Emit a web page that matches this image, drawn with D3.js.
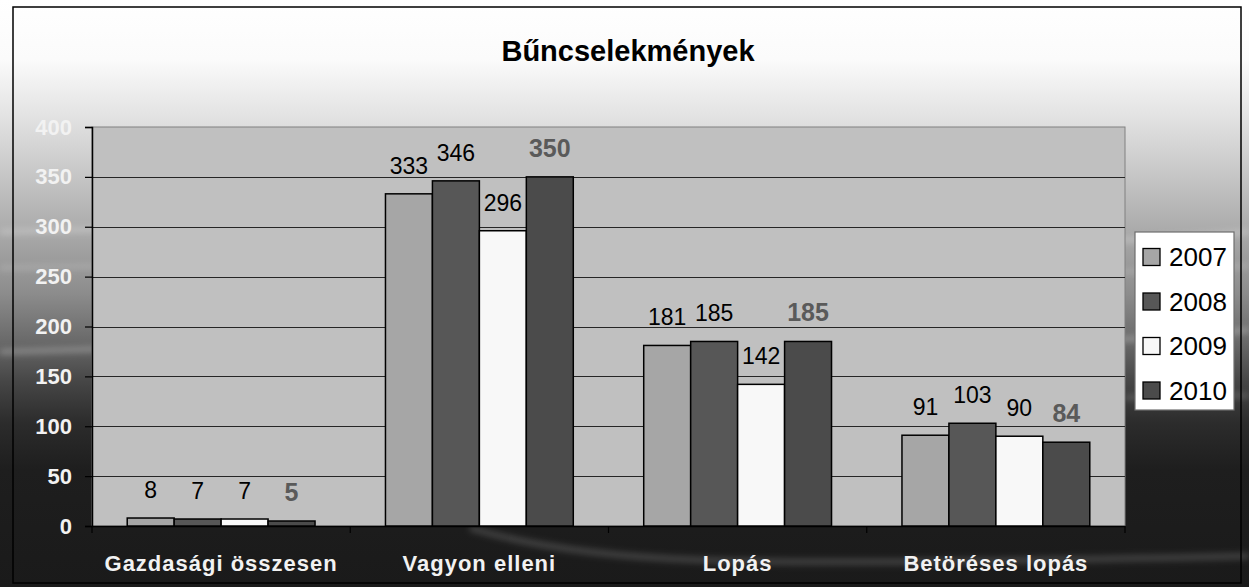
<!DOCTYPE html>
<html>
<head>
<meta charset="utf-8">
<script src="https://cdn.jsdelivr.net/npm/d3@7"></script>
<style>
  body { margin: 0; background: #fff; }
  svg { display: block; }
</style>
</head>
<body>
<svg id="chart"></svg>
<script>
// chart data
var categories = ["Gazdasági összesen", "Vagyon elleni", "Lopás", "Betöréses lopás"];
var years = ["2007", "2008", "2009", "2010"];
var values2007 = [8, 333, 181, 91];
var values2008 = [7, 346, 185, 103];
var values2009 = [7, 296, 142, 90];
var values2010 = [5, 350, 185, 84];
var yTicks = [0, 50, 100, 150, 200, 250, 300, 350, 400];
var chartTitle = "Bűncselekmények";

var seriesValues = [values2007, values2008, values2009, values2010];
var fills = ["#a6a6a6", "#575757", "#f8f8f8", "#4b4b4b"];
var font = "Arial, 'Liberation Sans', sans-serif";

var W = 1249, H = 587;
var plot = { left: 92, right: 1125, top: 127, bottom: 526 };

var svg = d3.select("#chart").attr("width", W).attr("height", H);
var defs = svg.append("defs");

// background gradient, white at the top to almost black at the bottom
var bg = defs.append("linearGradient").attr("id", "bg")
    .attr("x1", 0).attr("y1", 0).attr("x2", 0).attr("y2", 1);
[[0, "#ffffff"], [0.1, "#fbfbfb"], [0.2, "#e2e2e2"], [0.3, "#c6c6c6"],
 [0.4, "#a8a8a8"], [0.5, "#8c8c8c"], [0.58, "#6a6a6a"], [0.65, "#464646"],
 [0.72, "#2c2c2c"], [0.8, "#1e1e1e"], [1, "#1a1a1a"]].forEach(function (s) {
    bg.append("stop").attr("offset", s[0]).attr("stop-color", s[1]);
});

defs.append("filter").attr("id", "blur")
    .attr("x", "-10%").attr("y", "-50%").attr("width", "120%").attr("height", "200%")
    .append("feGaussianBlur").attr("stdDeviation", 3);

svg.append("rect").attr("width", W).attr("height", H).attr("fill", "url(#bg)");

// soft light swooshes in the background
var swoosh = svg.append("g").attr("filter", "url(#blur)")
    .attr("fill", "none").attr("stroke", "#ffffff");
swoosh.append("path").attr("d", "M0,232 Q300,222 640,238 T1249,232")
    .attr("stroke-width", 5).attr("stroke-opacity", 0.25);
swoosh.append("path").attr("d", "M0,268 Q300,262 640,272 T1249,266")
    .attr("stroke-width", 4).attr("stroke-opacity", 0.2);
swoosh.append("path").attr("d", "M0,352 Q350,340 700,345 T1249,330")
    .attr("stroke-width", 5).attr("stroke-opacity", 0.28);
swoosh.append("path").attr("d", "M1125,398 Q1190,392 1249,396")
    .attr("stroke-width", 4).attr("stroke-opacity", 0.2);
swoosh.append("path").attr("d", "M470,528 Q560,555 700,560 T1249,556")
    .attr("stroke-width", 6).attr("stroke-opacity", 0.18);

// outer chart border
svg.append("rect").attr("x", 13).attr("y", 7).attr("width", 1228).attr("height", 576)
    .attr("fill", "none").attr("stroke", "#000").attr("stroke-width", 1.5);

// title
svg.append("text")
    .attr("x", 628).attr("y", 61)
    .attr("text-anchor", "middle")
    .style("font-family", font).style("font-size", "29px").style("font-weight", "bold")
    .style("fill", "#000")
    .text(chartTitle);

// scales
var x0 = d3.scaleBand().domain(categories).range([plot.left, plot.right]);
var groupWidth = x0.bandwidth() * 4 / 5.5;
var x1 = d3.scaleBand().domain(years).range([0, groupWidth]);
var y = d3.scaleLinear().domain([0, 400]).range([plot.bottom, plot.top]);

// plot area
svg.append("rect")
    .attr("x", plot.left).attr("y", plot.top)
    .attr("width", plot.right - plot.left).attr("height", plot.bottom - plot.top)
    .attr("fill", "#c0c0c0").attr("stroke", "#808080").attr("stroke-width", 1);

// gridlines
svg.append("g").selectAll("line")
    .data(yTicks.filter(function (d) { return d > 0 && d < 400; }))
    .enter().append("line")
    .attr("x1", plot.left).attr("x2", plot.right)
    .attr("y1", function (d) { return Math.round(y(d)) + 0.5; })
    .attr("y2", function (d) { return Math.round(y(d)) + 0.5; })
    .attr("stroke", "#262626").attr("stroke-width", 1);

// y axis
var yAxis = d3.axisLeft(y).tickValues(yTicks).tickSize(7).tickPadding(13);
var gy = svg.append("g").attr("transform", "translate(" + plot.left + ",0)").call(yAxis);
gy.select(".domain").attr("stroke", "#000").attr("stroke-width", 1.5);
gy.selectAll(".tick line").attr("stroke", "#000").attr("stroke-width", 1.2);
gy.selectAll(".tick text")
    .style("font-family", font).style("font-size", "22px").style("font-weight", "bold")
    .attr("fill", "#f2f2f2");

// x axis
var xAxis = d3.axisBottom(x0).tickSize(0).tickPadding(0).tickFormat("");
var gx = svg.append("g").attr("transform", "translate(0," + plot.bottom + ")").call(xAxis);
gx.select(".domain").attr("stroke", "#000").attr("stroke-width", 1.5);
gx.selectAll(".tick").remove();

// category separator ticks
svg.append("g").selectAll("line")
    .data(categories.concat(["end"]))
    .enter().append("line")
    .attr("x1", function (d, i) { return i < categories.length ? x0(d) : plot.right; })
    .attr("x2", function (d, i) { return i < categories.length ? x0(d) : plot.right; })
    .attr("y1", plot.bottom).attr("y2", plot.bottom + 7)
    .attr("stroke", "#000").attr("stroke-width", 1.2);

// category labels
svg.append("g").selectAll("text")
    .data(categories)
    .enter().append("text")
    .attr("x", function (d) { return x0(d) + x0.bandwidth() / 2; })
    .attr("y", 571)
    .attr("text-anchor", "middle")
    .style("font-family", font).style("font-size", "22px").style("font-weight", "bold")
    .style("letter-spacing", "1px")
    .attr("fill", "#f2f2f2")
    .text(function (d) { return d; });

// bars
var groups = svg.append("g").selectAll("g")
    .data(categories)
    .enter().append("g")
    .attr("transform", function (d) {
        return "translate(" + (x0(d) + (x0.bandwidth() - groupWidth) / 2) + ",0)";
    });

var bars = groups.selectAll("rect")
    .data(function (d, ci) {
        return years.map(function (yr, si) {
            return { year: yr, si: si, value: seriesValues[si][ci] };
        });
    })
    .enter();

bars.append("rect")
    .attr("x", function (d) { return x1(d.year); })
    .attr("y", function (d) { return y(d.value); })
    .attr("width", x1.bandwidth())
    .attr("height", function (d) { return y(0) - y(d.value); })
    .attr("fill", function (d) { return fills[d.si]; })
    .attr("stroke", "#000").attr("stroke-width", 1.5);

// value labels
bars.append("text")
    .attr("x", function (d) { return x1(d.year) + x1.bandwidth() / 2; })
    .attr("y", function (d) { return y(d.value) - 20; })
    .attr("text-anchor", "middle")
    .style("font-family", font)
    .style("font-size", function (d) { return d.si === 3 ? "25px" : "23px"; })
    .style("font-weight", function (d) { return d.si === 3 ? "bold" : "normal"; })
    .attr("fill", function (d) { return d.si === 3 ? "#5a5a5a" : "#000"; })
    .text(function (d) { return d.value; });

// legend
var legend = svg.append("g").attr("transform", "translate(1135,232)");
legend.append("rect")
    .attr("width", 99).attr("height", 178)
    .attr("fill", "#fff").attr("stroke", "#6e6e6e").attr("stroke-width", 1.2);

var items = legend.selectAll(".item")
    .data(years)
    .enter().append("g")
    .attr("class", "item")
    .attr("transform", function (d, i) { return "translate(0," + (25 + i * 44.5) + ")"; });

items.append("rect")
    .attr("x", 8).attr("y", -8.5)
    .attr("width", 17).attr("height", 17)
    .attr("fill", function (d, i) { return fills[i]; })
    .attr("stroke", "#000").attr("stroke-width", 1.3);

items.append("text")
    .attr("x", 34).attr("y", 9)
    .style("font-family", font).style("font-size", "26px")
    .attr("fill", "#000")
    .text(function (d) { return d; });
</script>
</body>
</html>
